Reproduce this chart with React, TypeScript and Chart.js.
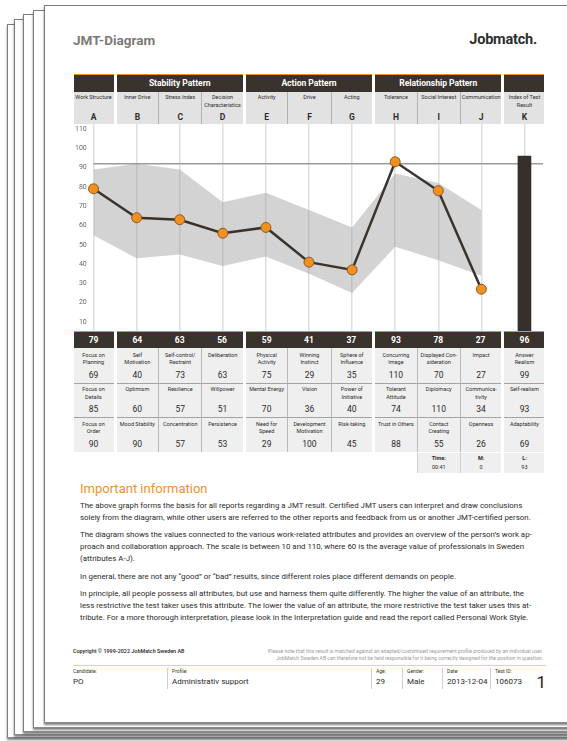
import React, { useEffect, useRef } from "react";
import { Chart, registerables } from "chart.js";

Chart.register(...registerables);

// ---------- DATA ----------
const letters = ["A", "B", "C", "D", "E", "F", "G", "H", "I", "J", "K"];
const headerNames = [
  "Work Structure", "Inner Drive", "Stress Index", "Decision\nCharacteristics",
  "Activity", "Drive", "Acting", "Tolerance", "Social Interest", "Communication",
  "Index of Test\nResult",
];
const groupTitles = ["", "Stability Pattern", "Action Pattern", "Relationship Pattern", ""];
const groupCols = [[0], [1, 2, 3], [4, 5, 6], [7, 8, 9], [10]];

const scores = [79, 64, 63, 56, 59, 41, 37, 93, 78, 27, null];
const indexResult = [null, null, null, null, null, null, null, null, null, null, 96];
const bandUpper = [89, 92, 89, 72, 77, 68, 59, 87, 82, 68, null];
const bandLower = [55, 43, 45, 39, 44, 35, 25, 49, 42, 34, null];
const referenceLevel = 92;
const yTicks = [10, 20, 30, 40, 50, 60, 70, 80, 90, 100, 110];
const topValues = [79, 64, 63, 56, 59, 41, 37, 93, 78, 27, 96];

const row1Names = ["Focus on\nPlanning", "Self\nMotivation", "Self-control/\nRestraint", "Deliberation", "Physical\nActivity", "Winning\nInstinct", "Sphere of\nInfluence", "Concurring\nImage", "Displayed Con-\nsideration", "Impact", "Answer\nRealism"];
const row1Values = [69, 40, 73, 63, 75, 29, 35, 110, 70, 27, 99];
const row2Names = ["Focus on\nDetails", "Optimism", "Resilience", "Willpower", "Mental Energy", "Vision", "Power of\nInitiative", "Tolerant\nAttitude", "Diplomacy", "Communica-\ntivity", "Self-realism"];
const row2Values = [85, 60, 57, 51, 70, 36, 40, 74, 110, 34, 93];
const row3Names = ["Focus on\nOrder", "Mood Stability", "Concentration", "Persistence", "Need for\nSpeed", "Development\nMotivation", "Risk-taking", "Trust in Others", "Contact\nCreating", "Openness", "Adaptability"];
const row3Values = [90, 90, 57, 53, 29, 100, 45, 88, 55, 26, 69];
const extraLabels = ["Time:", "M:", "L:"];
const extraValues = ["00:41", "0", "93"];

const paragraphs = [
  [
    "The above graph forms the basis for all reports regarding a JMT result. Certified JMT users can interpret and draw conclusions",
    "solely from the diagram, while other users are referred to the other reports and feedback from us or another JMT-certified person.",
  ],
  [
    "The diagram shows the values connected to the various work-related attributes and provides an overview of the person\u2019s work ap-",
    "proach and collaboration approach. The scale is between 10 and 110, where 60 is the average value of professionals in Sweden",
    "(attributes A-J).",
  ],
  [
    "In general, there are not any \u201cgood\u201d or \u201cbad\u201d results, since different roles place different demands on people.",
  ],
  [
    "In principle, all people possess all attributes, but use and harness them quite differently. The higher the value of an attribute, the",
    "less restrictive the test taker uses this attribute. The lower the value of an attribute, the more restrictive the test taker uses this at-",
    "tribute. For a more thorough interpretation, please look in the Interpretation guide and read the report called Personal Work Style.",
  ],
];

const footerFields = [
  { label: "Candidate:", value: "PO", x: 73, div: false },
  { label: "Profile:", value: "Administrativ support", x: 172, div: true },
  { label: "Age:", value: "29", x: 376, div: true },
  { label: "Gender:", value: "Male", x: 407, div: true },
  { label: "Date:", value: "2013-12-04", x: 447, div: true },
  { label: "Test ID:", value: "106073", x: 495, div: true },
];

// ---------- LAYOUT CONSTANTS ----------
const FONT = "Roboto, 'Noto Sans', sans-serif";
const X0 = 72;
const PLOT_W = 474;
const CW = PLOT_W / 11;
const PLOT_TOP = 124;
const PLOT_H = 207;
const DARK = "#39332e";
const ORANGE = "#f0901e";
const GAP = 1.5;

function groupOf(i: number) {
  return groupCols.findIndex((g) => g.includes(i));
}
function colBox(i: number) {
  const g = groupCols[groupOf(i)];
  const first = g[0] === i;
  const last = g[g.length - 1] === i;
  const l = X0 + i * CW + (first ? GAP : 0);
  const r = X0 + (i + 1) * CW - (last ? GAP : 0);
  return { l, w: r - l, first };
}
function groupBox(gi: number) {
  const g = groupCols[gi];
  const l = X0 + g[0] * CW + GAP;
  const r = X0 + (g[g.length - 1] + 1) * CW - GAP;
  return { l, w: r - l };
}

const abs = (l: number, t: number, w: number, h: number, extra: any = {}): any => ({
  position: "absolute",
  left: l,
  top: t,
  width: w,
  height: h,
  boxSizing: "border-box",
  ...extra,
});

const refLinePlugin = {
  id: "refLine",
  beforeDatasetDraw(chart: any, args: any) {
    if (args.index !== 1) return;
    const { ctx, chartArea, scales } = chart;
    const yy = scales.y.getPixelForValue(referenceLevel);
    ctx.save();
    ctx.strokeStyle = "#9b9b9b";
    ctx.lineWidth = 1.5;
    ctx.beginPath();
    ctx.moveTo(scales.x.getPixelForValue(0), yy);
    ctx.lineTo(chartArea.right - 3, yy);
    ctx.stroke();
    ctx.restore();
  },
};

export default function App() {
  const canvasRef = useRef<HTMLCanvasElement>(null);

  useEffect(() => {
    const chart = new Chart(canvasRef.current as HTMLCanvasElement, {
      type: "line",
      data: {
        labels: letters,
        datasets: [
          {
            type: "line",
            data: scores,
            borderColor: "#3a332d",
            borderWidth: 2.5,
            pointBackgroundColor: ORANGE,
            pointBorderColor: "#8a5a2a",
            pointBorderWidth: 1,
            pointRadius: 5,
            fill: false,
            tension: 0,
          } as any,
          {
            type: "bar",
            data: indexResult,
            backgroundColor: "#36302b",
            barThickness: 13,
          } as any,
          {
            type: "line",
            data: bandUpper,
            borderWidth: 0,
            borderColor: "rgba(0,0,0,0)",
            pointRadius: 0,
            fill: "+1",
            backgroundColor: "rgba(150,150,150,0.42)",
          } as any,
          {
            type: "line",
            data: bandLower,
            borderWidth: 0,
            borderColor: "rgba(0,0,0,0)",
            pointRadius: 0,
            fill: false,
          } as any,
        ],
      },
      options: {
        animation: false,
        responsive: false,
        maintainAspectRatio: false,
        layout: { padding: 0, autoPadding: false },
        plugins: { legend: { display: false }, tooltip: { enabled: false } },
        scales: {
          x: {
            type: "category",
            offset: true,
            grid: { offset: false, color: "#dedede", lineWidth: 1.5, drawTicks: false },
            border: { display: false },
            ticks: { display: false },
            afterFit: (s: any) => {
              s.height = 0;
              s.paddingLeft = 0;
              s.paddingRight = 0;
            },
          },
          y: {
            type: "linear",
            min: 5.34,
            max: 112.59,
            grid: { display: false, drawTicks: false },
            border: { display: false },
            ticks: {
              mirror: true,
              crossAlign: "far",
              padding: 3,
              color: "#666",
              font: { family: FONT, size: 7 },
            },
            afterBuildTicks: (s: any) => {
              s.ticks = yTicks.map((v) => ({ value: v }));
            },
            afterFit: (s: any) => {
              s.width = 0;
              s.paddingTop = 0;
              s.paddingBottom = 0;
            },
          },
        },
      } as any,
      plugins: [refLinePlugin],
    });
    return () => chart.destroy();
  }, []);

  const pages = [
    { l: 7, t: 24, b: 738 },
    { l: 14, t: 19, b: 735 },
    { l: 23, t: 14, b: 732 },
    { l: 33, t: 10, b: 728 },
    { l: 44, t: 5, b: 723 },
  ];

  const small: any = { fontSize: 5.5, lineHeight: "7.5px", color: "#2b2b2b", whiteSpace: "pre", textAlign: "center" };

  const subRows = [
    { names: row1Names, values: row1Values, top: 348 },
    { names: row2Names, values: row2Values, top: 382.5 },
    { names: row3Names, values: row3Values, top: 417 },
  ];

  return (
    <div style={{ position: "fixed", left: 0, top: 0, width: 567, height: 741, overflow: "hidden", background: "#fff", fontFamily: FONT }}>
      {pages.map((p, i) => (
        <div
          key={"pg" + i}
          style={abs(p.l, p.t, 700, p.b - p.t, {
            background: "#fff",
            borderLeft: "1px solid #7d7d7d",
            borderTop: "1px solid #7d7d7d",
            borderBottom: "1px solid #8a8a8a",
            boxShadow: "0 2px 2px rgba(0,0,0,0.5)",
          })}
        />
      ))}

      {/* Title and logo */}
      <div style={abs(73, 31, 200, 18, { fontSize: 13.5, fontWeight: 700, color: "#7a7a7a", lineHeight: "18px" })}>JMT-Diagram</div>
      <div style={abs(437, 31, 100, 18, { fontSize: 14.5, fontWeight: 700, color: "#2e2e2e", lineHeight: "18px", textAlign: "right", letterSpacing: -0.2 })}>Jobmatch.</div>

      {/* Header groups */}
      {groupCols.map((g, gi) => {
        const b = groupBox(gi);
        return (
          <React.Fragment key={"hg" + gi}>
            <div style={abs(b.l, 73.5, b.w, 1.5, { background: ORANGE })} />
            <div style={abs(b.l, 75, b.w, 16.5, { background: DARK, color: "#fff", fontSize: 8.5, fontWeight: 700, textAlign: "center", lineHeight: "16.5px" })}>
              {groupTitles[gi]}
            </div>
          </React.Fragment>
        );
      })}
      {letters.map((L, i) => {
        const c = colBox(i);
        return (
          <div key={"hn" + i} style={abs(c.l, 91.5, c.w, 32.5, { background: "#e2e2e2", borderLeft: c.first ? "none" : "1px solid #b0b0b0" })}>
            <div style={{ ...small, position: "absolute", left: 0, right: 0, top: 2.5 }}>{headerNames[i]}</div>
            <div style={{ position: "absolute", left: 0, right: 0, top: 20, fontSize: 8.5, fontWeight: 700, textAlign: "center", color: "#2b2b2b", lineHeight: "10px" }}>{L}</div>
          </div>
        );
      })}

      {/* Chart */}
      <div style={abs(X0, PLOT_TOP, PLOT_W, PLOT_H)}>
        <canvas ref={canvasRef} width={PLOT_W} height={PLOT_H} style={{ display: "block", width: PLOT_W, height: PLOT_H }} />
      </div>

      {/* Bottom table */}
      {groupCols.map((g, gi) => {
        const b = groupBox(gi);
        return <div key={"bg" + gi} style={abs(b.l, 330.5, b.w, 1.5, { background: ORANGE })} />;
      })}
      {letters.map((L, i) => {
        const c = colBox(i);
        return (
          <div key={"tv" + i} style={abs(c.l, 332, c.w, 16, { background: DARK, color: "#fff", fontSize: 8.5, fontWeight: 700, textAlign: "center", lineHeight: "16px" })}>
            {topValues[i]}
          </div>
        );
      })}
      {subRows.map((r, ri) =>
        letters.map((L, i) => {
          const c = colBox(i);
          return (
            <div
              key={"sr" + ri + "_" + i}
              style={abs(c.l, r.top, c.w, 34.5, {
                background: "#efefef",
                borderLeft: c.first ? "none" : "1px solid #b8b8b8",
                borderTop: ri > 0 ? "1.5px solid #a3a3a3" : "none",
              })}
            >
              <div style={{ ...small, position: "absolute", left: 0, right: 0, top: ri > 0 ? 2.5 : 3.5 }}>{r.names[i]}</div>
              <div style={{ position: "absolute", left: 0, right: 0, top: ri > 0 ? 20.5 : 21.5, fontSize: 8.5, textAlign: "center", color: "#2b2b2b", lineHeight: "10px" }}>{r.values[i]}</div>
            </div>
          );
        })
      )}
      {[8, 9, 10].map((ci, k) => {
        const c = colBox(ci);
        return (
          <div
            key={"ex" + k}
            style={abs(c.l, 453, c.w, 19.5, { background: "#efefef", borderLeft: c.first ? "none" : "1px solid #d0d0d0" })}
          >
            <div style={{ position: "absolute", left: 0, right: 0, top: 2, fontSize: 5.5, fontWeight: 700, textAlign: "center", color: "#2b2b2b", lineHeight: "7px" }}>{extraLabels[k]}</div>
            <div style={{ position: "absolute", left: 0, right: 0, top: 11, fontSize: 5.5, textAlign: "center", color: "#2b2b2b", lineHeight: "7px" }}>{extraValues[k]}</div>
          </div>
        );
      })}

      {/* Important information */}
      <div style={abs(80, 481, 300, 16, { fontSize: 13, color: "#f0922a", lineHeight: "16px" })}>Important information</div>
      <div style={abs(80, 499.7, 470, 130, { fontSize: 7.9, color: "#2a2a2a", lineHeight: "12px" })}>
        {paragraphs.map((p, pi) => (
          <div key={"p" + pi} style={{ marginBottom: 5.5 }}>
            {p.map((line, li) => (
              <div key={li} style={{ whiteSpace: "nowrap" }}>{line}</div>
            ))}
          </div>
        ))}
      </div>

      {/* Footer */}
      <div style={abs(73, 648, 200, 7, { fontSize: 5.4, fontWeight: 600, color: "#333", lineHeight: "7px", whiteSpace: "nowrap" })}>
        Copyright © 1999-2022 JobMatch Sweden AB
      </div>
      <div style={abs(243, 647.5, 300, 15, { fontSize: 5.1, color: "#9a9a9a", lineHeight: "7.3px", textAlign: "right", whiteSpace: "nowrap" })}>
        <div>Please note that this result is matched against an adapted/customised requirement profile produced by an individual user.</div>
        <div>JobMatch Sweden AB can therefore not be held responsible for it being correctly designed for the position in question.</div>
      </div>
      <div style={abs(73, 664.5, 473, 1.5, { background: "#f9cc94" })} />
      {footerFields.map((f, i) => (
        <React.Fragment key={"ff" + i}>
          {f.div && <div style={abs(f.x - 5, 668, 1, 21, { background: "#cfcfcf" })} />}
          <div style={abs(f.x, 667.5, 120, 7, { fontSize: 5, color: "#333", lineHeight: "7px", whiteSpace: "nowrap" })}>{f.label}</div>
          <div style={abs(f.x, 677, 150, 10, { fontSize: 8, color: "#2a2a2a", lineHeight: "10px", whiteSpace: "nowrap" })}>{f.value}</div>
        </React.Fragment>
      ))}
      <div style={abs(530, 672, 16, 20, { fontSize: 17, color: "#222", lineHeight: "20px", textAlign: "right" })}>1</div>
    </div>
  );
}
